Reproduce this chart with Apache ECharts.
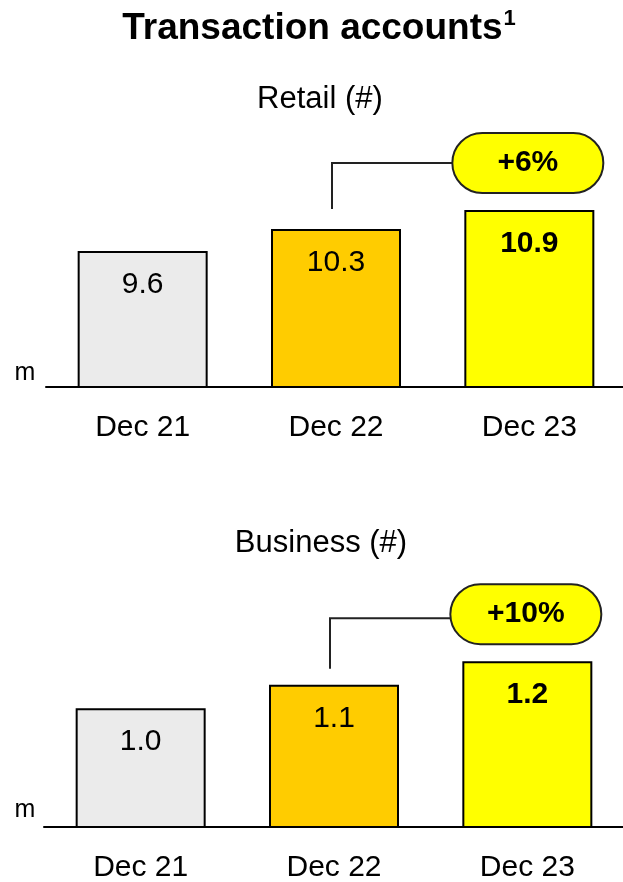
<!DOCTYPE html>
<html>
<head>
<meta charset="utf-8">
<style>
  html, body { margin: 0; padding: 0; background: #fff; }
  #chart { width: 623px; height: 882px; }
</style>
<script src="https://cdn.jsdelivr.net/npm/echarts@6/dist/echarts.min.js"></script>
</head>
<body>
<div id="chart"></div>
<script>
// ---- data ----
const chartTitle = 'Transaction accounts';
const titleFootnote = '1';
const categories = ['Dec 21', 'Dec 22', 'Dec 23'];
const retailValues = [9.6, 10.3, 10.9];
const businessValues = [1.0, 1.1, 1.2];
const panelTitles = ['Retail (#)', 'Business (#)'];
const growthLabels = ['+6%', '+10%'];
const unitLabel = 'm';

// ---- styling ----
const FONT = '"Liberation Sans", Arial, sans-serif';
const barColors = ['#EBEBEB', '#FFCC00', '#FFFF00'];
const panels = [
  { values: retailValues, left: 46, top: 130, height: 257, min: 5.288, max: 13.436, titleTop: 79, titleX: 320 },
  { values: businessValues, left: 44, top: 570, height: 257, min: 0.494, max: 1.588, titleTop: 523, titleX: 321 }
];

const chart = echarts.init(document.getElementById('chart'), null, { renderer: 'canvas' });

const option = {
  animation: false,
  backgroundColor: '#fff',
  textStyle: { fontFamily: FONT },
  title: [
    { text: '{a|' + chartTitle + '}{s|' + titleFootnote + '}', left: 319 - 5, top: 3, textAlign: 'center',
      textStyle: {
        fontFamily: FONT, fontSize: 37, fontWeight: 'bold', color: '#000',
        rich: {
          a: { fontFamily: FONT, fontSize: 37, fontWeight: 'bold', color: '#000', lineHeight: 42 },
          s: { fontFamily: FONT, fontSize: 22, fontWeight: 'bold', color: '#000', verticalAlign: 'top', padding: [0, 0, 0, 1] }
        }
      } },
    ...panels.map((p, i) => ({
      text: panelTitles[i], left: p.titleX - 5, top: p.titleTop, textAlign: 'center',
      textStyle: { fontFamily: FONT, fontSize: 31, fontWeight: 'normal', color: '#000' }
    }))
  ],
  grid: panels.map(p => ({ left: p.left, width: 580, top: p.top, height: p.height,
                           containLabel: false, outerBoundsMode: 'none' })),
  xAxis: panels.map((p, i) => ({
    type: 'category', gridIndex: i, data: categories,
    axisLine: { show: true, lineStyle: { color: '#000', width: 2 } },
    axisTick: { show: false },
    axisLabel: { fontFamily: FONT, fontSize: 30, color: '#000', margin: 26 }
  })),
  yAxis: panels.map((p, i) => ({
    type: 'value', gridIndex: i, min: p.min, max: p.max, show: false,
    splitLine: { show: false }
  })),
  series: panels.map((p, i) => ({
    type: 'bar', xAxisIndex: i, yAxisIndex: i, barWidth: 130,
    data: p.values.map((v, j) => ({
      value: v,
      itemStyle: { color: barColors[j], borderColor: '#000', borderWidth: 2 },
      label: { fontWeight: j === 2 ? 'bold' : 'normal' }
    })),
    label: {
      show: true, position: 'insideTop', distance: 19,
      fontFamily: FONT, fontSize: 30, color: '#000',
      formatter: d => Number(d.value).toFixed(1)
    }
  }))
};

chart.setOption(option);

// annotations positioned from the chart's own scales
const graphics = [];
panels.forEach((p, i) => {
  const p22 = chart.convertToPixel({ xAxisIndex: i, yAxisIndex: i }, [categories[1], p.values[1]]);
  const p23 = chart.convertToPixel({ xAxisIndex: i, yAxisIndex: i }, [categories[2], p.values[2]]);
  const base = chart.convertToPixel({ xAxisIndex: i, yAxisIndex: i }, [categories[0], p.min]);
  const pillW = 151, pillH = 60;
  const pillCy = p23[1] - 47;
  const pillLeft = p23[0] - 77;
  const lineX = p22[0] - 4;
  const gap = i === 0 ? 20 : 16;
  const lineY = pillCy + (i === 0 ? 0 : 4);
  graphics.push({
    type: 'polyline',
    shape: { points: [[lineX, p22[1] - gap], [lineX, lineY], [pillLeft, lineY]] },
    style: { stroke: '#222', lineWidth: 2, fill: null },
    z: 10
  });
  graphics.push({
    type: 'rect',
    shape: { x: pillLeft, y: pillCy - pillH / 2, width: pillW, height: pillH, r: pillH / 2 },
    style: { fill: '#FFFF00', stroke: '#222', lineWidth: 2 },
    z: 11
  });
  graphics.push({
    type: 'text',
    x: pillLeft + pillW / 2, y: pillCy,
    style: { text: growthLabels[i], fontFamily: FONT, fontSize: 30, fontWeight: 'bold',
             fill: '#000', align: 'center', verticalAlign: 'middle' },
    z: 12
  });
  graphics.push({
    type: 'text',
    x: 25, y: base[1] - (i === 0 ? 14 : 17),
    style: { text: unitLabel, fontFamily: FONT, fontSize: 25, fill: '#000',
             align: 'center', verticalAlign: 'middle' },
    z: 12
  });
});
chart.setOption({ graphic: graphics });
</script>
</body>
</html>
